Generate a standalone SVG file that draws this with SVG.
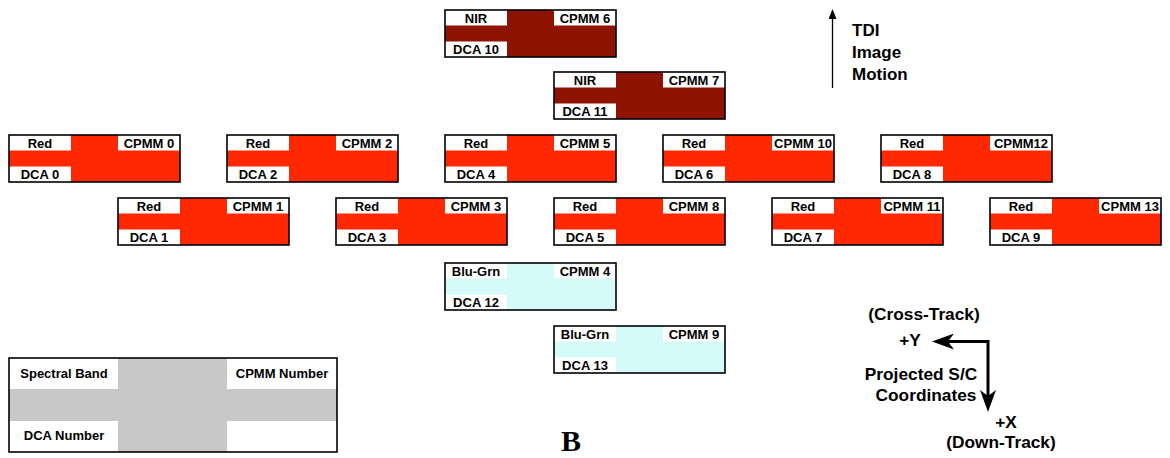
<svg xmlns="http://www.w3.org/2000/svg" width="1170" height="458" viewBox="0 0 1170 458">
<style>
  .bg{fill:#ffffff}
  .nir{fill:#8e1300}
  .red{fill:#ff2800}
  .bg2{fill:#d4fafa}
  .gray{fill:#c8c8c8}
  .cell{fill:#ffffff}
  .frame{fill:none;stroke:#000;stroke-width:1.6}
  .t{font-family:"Liberation Sans",Arial,sans-serif;font-weight:bold;font-size:13px;fill:#000;text-anchor:middle}
  .big{font-family:"Liberation Sans",Arial,sans-serif;font-weight:bold;font-size:17px;fill:#000}
  .bigc{font-family:"Liberation Sans",Arial,sans-serif;font-weight:bold;font-size:17.3px;fill:#000;text-anchor:middle}
  .B{font-family:"Liberation Serif","Times New Roman",serif;font-weight:bold;font-size:30px;fill:#000;text-anchor:middle}
  .thin{fill:none;stroke:#000;stroke-width:1.3}
  .thick{fill:none;stroke:#000;stroke-width:3;stroke-linejoin:miter}
</style>
<defs>
  <marker id="small" viewBox="0 0 10 8" refX="2" refY="4" markerWidth="10" markerHeight="8" markerUnits="userSpaceOnUse" orient="auto">
    <path d="M0,0 L10,4 L0,8 Z" fill="#000"/>
  </marker>
  <marker id="barb" viewBox="0 0 22 16" refX="14" refY="8" markerWidth="22" markerHeight="16" markerUnits="userSpaceOnUse" orient="auto-start-reverse">
    <path d="M0,0 L22,8 L0,16 L6,8 Z" fill="#000"/>
  </marker>
  <g id="cells">
    <rect class="cell" x="0" y="0" width="62" height="15.5"/>
    <rect class="cell" x="109" y="0" width="62" height="15.5"/>
    <rect class="cell" x="0" y="31.5" width="62" height="15.5"/>
    <rect class="frame" x="0" y="0" width="171" height="47"/>
  </g>
</defs>
<rect class="bg" x="0" y="0" width="1170" height="458"/>

<g id="cpmm6" transform="translate(445,10)">
  <rect class="nir" width="171" height="47"/><use href="#cells"/>
  <text class="t" x="31" y="12.5">NIR</text><text class="t" x="140" y="12.5">CPMM 6</text><text class="t" x="31" y="44.3">DCA 10</text>
</g>
<g id="cpmm7" transform="translate(554,72)">
  <rect class="nir" width="171" height="47"/><use href="#cells"/>
  <text class="t" x="31" y="12.5">NIR</text><text class="t" x="140" y="12.5">CPMM 7</text><text class="t" x="31" y="44.3">DCA 11</text>
</g>

<g id="cpmm0" transform="translate(9,135)">
  <rect class="red" width="171" height="47"/><use href="#cells"/>
  <text class="t" x="31" y="12.5">Red</text><text class="t" x="140" y="12.5">CPMM 0</text><text class="t" x="31" y="44.3">DCA 0</text>
</g>
<g id="cpmm2" transform="translate(227,135)">
  <rect class="red" width="171" height="47"/><use href="#cells"/>
  <text class="t" x="31" y="12.5">Red</text><text class="t" x="140" y="12.5">CPMM 2</text><text class="t" x="31" y="44.3">DCA 2</text>
</g>
<g id="cpmm5" transform="translate(445,135)">
  <rect class="red" width="171" height="47"/><use href="#cells"/>
  <text class="t" x="31" y="12.5">Red</text><text class="t" x="140" y="12.5">CPMM 5</text><text class="t" x="31" y="44.3">DCA 4</text>
</g>
<g id="cpmm10" transform="translate(663,135)">
  <rect class="red" width="171" height="47"/><use href="#cells"/>
  <text class="t" x="31" y="12.5">Red</text><text class="t" x="140" y="12.5">CPMM 10</text><text class="t" x="31" y="44.3">DCA 6</text>
</g>
<g id="cpmm12" transform="translate(881,135)">
  <rect class="red" width="171" height="47"/><use href="#cells"/>
  <text class="t" x="31" y="12.5">Red</text><text class="t" x="140" y="12.5">CPMM12</text><text class="t" x="31" y="44.3">DCA 8</text>
</g>

<g id="cpmm1" transform="translate(118,198)">
  <rect class="red" width="171" height="47"/><use href="#cells"/>
  <text class="t" x="31" y="12.5">Red</text><text class="t" x="140" y="12.5">CPMM 1</text><text class="t" x="31" y="44.3">DCA 1</text>
</g>
<g id="cpmm3" transform="translate(336,198)">
  <rect class="red" width="171" height="47"/><use href="#cells"/>
  <text class="t" x="31" y="12.5">Red</text><text class="t" x="140" y="12.5">CPMM 3</text><text class="t" x="31" y="44.3">DCA 3</text>
</g>
<g id="cpmm8" transform="translate(554,198)">
  <rect class="red" width="171" height="47"/><use href="#cells"/>
  <text class="t" x="31" y="12.5">Red</text><text class="t" x="140" y="12.5">CPMM 8</text><text class="t" x="31" y="44.3">DCA 5</text>
</g>
<g id="cpmm11" transform="translate(772,198)">
  <rect class="red" width="171" height="47"/><use href="#cells"/>
  <text class="t" x="31" y="12.5">Red</text><text class="t" x="140" y="12.5">CPMM 11</text><text class="t" x="31" y="44.3">DCA 7</text>
</g>
<g id="cpmm13" transform="translate(990,198)">
  <rect class="red" width="171" height="47"/><use href="#cells"/>
  <text class="t" x="31" y="12.5">Red</text><text class="t" x="140" y="12.5">CPMM 13</text><text class="t" x="31" y="44.3">DCA 9</text>
</g>

<g id="cpmm4" transform="translate(445,263)">
  <rect class="bg2" width="171" height="47"/><use href="#cells"/>
  <text class="t" x="31" y="12.5">Blu-Grn</text><text class="t" x="140" y="12.5">CPMM 4</text><text class="t" x="31" y="44.3">DCA 12</text>
</g>
<g id="cpmm9" transform="translate(554,326)">
  <rect class="bg2" width="171" height="47"/><use href="#cells"/>
  <text class="t" x="31" y="12.5">Blu-Grn</text><text class="t" x="140" y="12.5">CPMM 9</text><text class="t" x="31" y="44.3">DCA 13</text>
</g>

<g id="legend" transform="translate(9,358)">
  <rect class="gray" width="328" height="94"/>
  <rect class="cell" x="0" y="0" width="109" height="31"/>
  <rect class="cell" x="218" y="0" width="110" height="31"/>
  <rect class="cell" x="0" y="63" width="109" height="31"/>
  <rect class="cell" x="218" y="63" width="110" height="31"/>
  <rect class="frame" width="328" height="94"/>
  <text class="t" x="55" y="19.5">Spectral Band</text>
  <text class="t" x="273" y="19.5">CPMM Number</text>
  <text class="t" x="55" y="82">DCA Number</text>
</g>

<g id="connectors">
  <path class="thin" d="M832.5,88 V17" marker-end="url(#small)"/>
  <path class="thick" d="M940,341.5 H988 V404" marker-start="url(#barb)" marker-end="url(#barb)"/>
</g>

<g id="tdi-label">
  <text class="big" x="852" y="36">TDI</text>
  <text class="big" x="852" y="58">Image</text>
  <text class="big" x="852" y="79.5">Motion</text>
</g>
<g id="coord-labels">
  <text class="bigc" x="924" y="320">(Cross-Track)</text>
  <text class="bigc" x="910" y="346">+Y</text>
  <text class="bigc" x="921" y="380">Projected S/C</text>
  <text class="bigc" x="926" y="401">Coordinates</text>
  <text class="bigc" x="1006" y="428">+X</text>
  <text class="bigc" x="1001" y="448">(Down-Track)</text>
</g>
<text class="B" x="571" y="451">B</text>
</svg>
